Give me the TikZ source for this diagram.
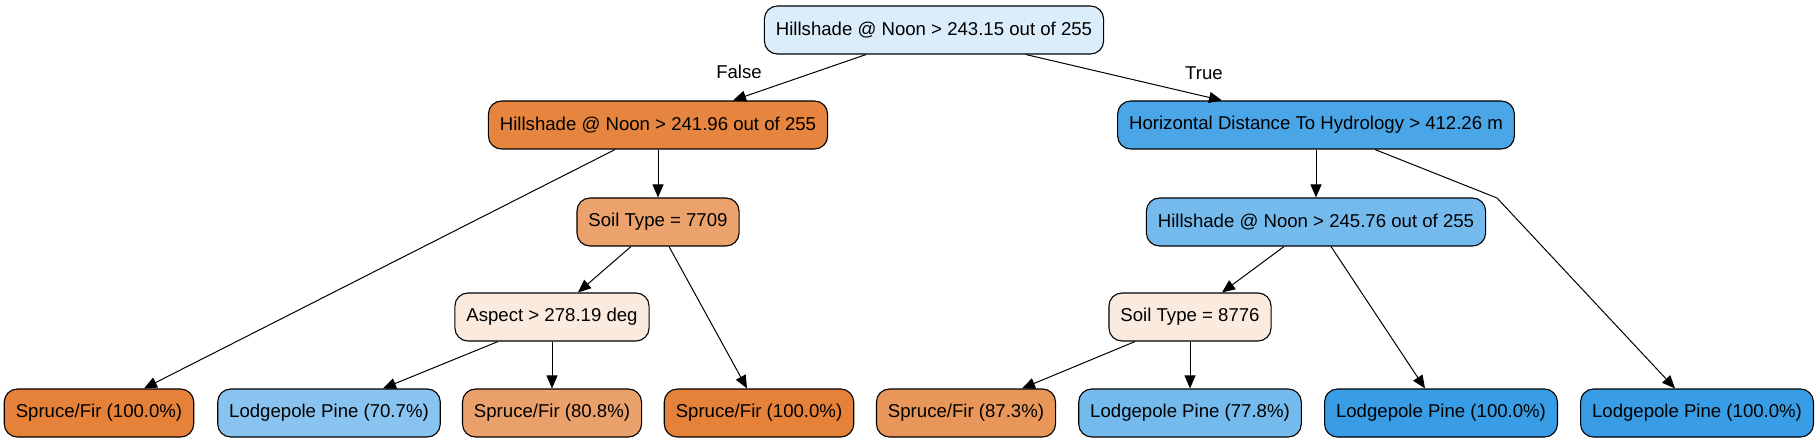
\documentclass[tikz,border=0pt]{standalone}
\usepackage{fontspec}
\setmainfont{Liberation Sans}
\usetikzlibrary{arrows.meta}

\definecolor{rootc}{HTML}{DBEDFA}
\definecolor{orA}{HTML}{E6853F}
\definecolor{orB}{HTML}{ECA26D}
\definecolor{orC}{HTML}{FBEBDF}
\definecolor{orD}{HTML}{EAA06A}
\definecolor{orE}{HTML}{E9965A}
\definecolor{orF}{HTML}{E58139}
\definecolor{blA}{HTML}{4BA6E7}
\definecolor{blB}{HTML}{74BAED}
\definecolor{blC}{HTML}{88C4EF}
\definecolor{blD}{HTML}{399DE5}

\tikzset{
  split/.style={draw, rounded corners=6.5pt, minimum height=24pt, inner xsep=5.75pt, line width=0.55pt},
  arr/.style={->, line width=0.5pt},
}

\begin{document}
\begin{tikzpicture}[x=0.5pt, y=-0.5pt, font=\fontsize{9.3}{11}\selectfont, line join=round, >={Triangle[length=6.5pt,width=5.5pt]}]
	\useasboundingbox (0,0) rectangle (1818,443);
	% splits
	\node[split, fill=rootc] (root) at (934,30) {Hillshade @ Noon > 243.15 out of 255};
	\node[split, fill=orA] (hsL) at (658,125) {Hillshade @ Noon > 241.96 out of 255};
	\node[split, fill=blA] (hdR) at (1316,125) {Horizontal Distance To Hydrology > 412.26 m};
	\node[split, fill=orB] (soilL) at (658,222) {Soil Type = 7709};
	\node[split, fill=blB] (hsR) at (1316,222) {Hillshade @ Noon > 245.76 out of 255};
	\node[split, fill=orC] (aspect) at (552,317) {Aspect > 278.19 deg};
	\node[split, fill=orC] (soilR) at (1190,317) {Soil Type = 8776};
	% leaves
	\node[split, fill=orF] (sfA) at (99,413) {Spruce/Fir (100.0\%)};
	\node[split, fill=blC] (lpA) at (329,413) {Lodgepole Pine (70.7\%)};
	\node[split, fill=orD] (sfB) at (552,413) {Spruce/Fir (80.8\%)};
	\node[split, fill=orF] (sfC) at (759,413) {Spruce/Fir (100.0\%)};
	\node[split, fill=orE] (sfD) at (966,413) {Spruce/Fir (87.3\%)};
	\node[split, fill=blB] (lpB) at (1190,413) {Lodgepole Pine (77.8\%)};
	\node[split, fill=blD] (lpC) at (1441,413) {Lodgepole Pine (100.0\%)};
	\node[split, fill=blD] (lpD) at (1697,413) {Lodgepole Pine (100.0\%)};
	% labels
	\node (lblF) at (739,72) {False};
	\node (lblT) at (1204,73) {True};
	\coordinate (bend) at (1497,198);
	% edges
	\draw[arr] ([shift={(-68,0)}]root.south) -- ([shift={(75,0)}]hsL.north);
	\draw[arr] ([shift={(92,0)}]root.south) -- ([shift={(-94,0)}]hdR.north);
	\draw[arr] ([shift={(-43,0)}]hsL.south) -- ([shift={(45,0)}]sfA.north);
	\draw[arr] (hsL.south) -- (soilL.north);
	\draw[arr] ([shift={(-27,0)}]soilL.south) -- ([shift={(26,0)}]aspect.north);
	\draw[arr] ([shift={(11,0)}]soilL.south) -- ([shift={(-12,0)}]sfC.north);
	\draw[arr] ([shift={(-54,0)}]aspect.south) -- ([shift={(54,0)}]lpA.north);
	\draw[arr] (aspect.south) -- (sfB.north);
	\draw[arr] (hdR.south) -- (hsR.north);
	\draw[arr] ([shift={(59,0)}]hdR.south) -- (bend) -- ([shift={(-22,0)}]lpD.north);
	\draw[arr] ([shift={(-32,0)}]hsR.south) -- ([shift={(32,0)}]soilR.north);
	\draw[arr] ([shift={(15,0)}]hsR.south) -- ([shift={(-16,0)}]lpC.north);
	\draw[arr] ([shift={(-55,0)}]soilR.south) -- ([shift={(56,0)}]sfD.north);
	\draw[arr] (soilR.south) -- (lpB.north);
\end{tikzpicture}
\end{document}
